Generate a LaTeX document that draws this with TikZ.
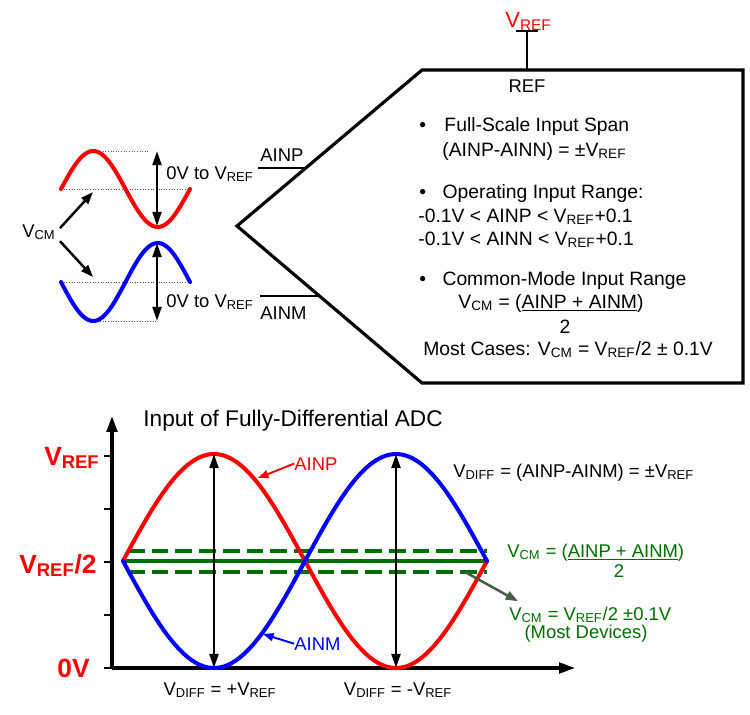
\documentclass[tikz,border=0pt]{standalone}
\usepackage{fontspec}
\setmainfont{Liberation Sans}
\usetikzlibrary{arrows.meta, positioning, calc}

\definecolor{cmgreen}{RGB}{0,110,0}
\definecolor{arrgreen}{RGB}{65,95,65}

\begin{document}
\begin{tikzpicture}[x=0.02cm, y=-0.02cm,
    txt/.style={inner sep=0pt, font=\fontsize{11}{13}\selectfont},
    lbl/.style={inner sep=0pt, font=\fontsize{10.5}{12}\selectfont},
    big/.style={inner sep=0pt, text=red, font=\fontsize{15}{18}\selectfont\bfseries},
    wave/.style={line width=2.3pt, line cap=round},
    guide/.style={densely dotted, gray!70!black, line width=0.5pt},
    pin/.style={line width=0.8pt},
    cmline/.style={line width=2pt, cmgreen},
    dar/.style={{Triangle[length=8pt,width=5pt]}-{Triangle[length=8pt,width=5pt]}, line width=1.5pt},
    nar/.style={-{Triangle[length=7pt,width=5pt]}, line width=1.4pt},
    sar/.style={-{Triangle[length=6pt,width=4.5pt]}, line width=1.1pt},
    axis/.style={-{Triangle[length=9pt,width=6pt]}, line width=1.8pt},
]
\useasboundingbox (0,0) rectangle (750,714);

% ADC box
\draw[line width=1.8pt, line join=miter] (422,70) -- (743,70) -- (743,383) -- (422,383) -- (237,226) -- cycle;
\coordinate (refpin) at (527,70);
\coordinate (reftop) at (527,31);
\coordinate (inp) at (306,168);
\coordinate (inm) at (320,296);

% REF pin
\draw[pin] (refpin) -- (reftop);
\draw[line width=1.2pt] ($(reftop)+(-11,0)$) -- ($(reftop)+(11,0)$);
\node[inner sep=0pt, anchor=base west, text=red, font=\fontsize{12.5}{14}\selectfont] (vref) at (505,27) {V\textsubscript{REF}};
\node[lbl, anchor=base] (ref) at (527,92) {REF};

% input pins
\draw[pin] (inp) -- ++(-48,0);
\draw[pin] (inm) -- ++(-60,0);
\node[lbl, anchor=base west] (ainpin) at (260,161) {AINP};
\node[lbl, anchor=base west] (ainmin) at (260,319) {AINM};

% box text
\node[txt, anchor=base west] (fs)  at (419,131) {\textbullet\hspace{0.95em}Full-Scale Input Span};
\node[txt, anchor=base west] (fs2) at (442,156) {(AINP-AINN) = ±V\textsubscript{REF}};
\node[txt, anchor=base west] (op)  at (419,198) {\textbullet\hspace{0.85em}Operating Input Range:};
\node[txt, anchor=base west] (op1) at (418,222) {-0.1V < AINP < V\textsubscript{REF}+0.1};
\node[txt, anchor=base west] (op2) at (418,245) {-0.1V < AINN < V\textsubscript{REF}+0.1};
\node[txt, anchor=base west] (cm)  at (419,285) {\textbullet\hspace{0.85em}Common-Mode Input Range};
\node[txt, anchor=base west] (cm1) at (458,308) {V\textsubscript{CM} = (\underline{AINP + AINM})};
\node[txt, anchor=base] (cm2) at (565,333) {2};
\node[txt, anchor=base west] (cm3) at (423,355) {Most Cases: V\textsubscript{CM} = V\textsubscript{REF}/2 ± 0.1V};

% small waves
\draw[guide] (100,151) -- (150,151);
\draw[guide] (61,189) -- (190,189);
\draw[guide] (61,282) -- (190,282);
\draw[guide] (100,321) -- (157,321);
\draw[wave, red] plot[domain=0:360, samples=73] ({61+0.35833*\x}, {189-38*sin(\x)});
\draw[wave, blue] plot[domain=0:360, samples=73] ({61+0.35833*\x}, {282+39*sin(\x)});
\coordinate (rtop) at (157,151);
\coordinate (rbot) at (157,226);
\coordinate (btop) at (157,243);
\coordinate (bbot) at (157,321);
\draw[dar] (rtop) -- (rbot);
\draw[dar] (btop) -- (bbot);
\node[lbl, anchor=base west] (span1) at (166,179) {0V to V\textsubscript{REF}};
\node[lbl, anchor=base west] (span2) at (166,307) {0V to V\textsubscript{REF}};

\node[lbl, anchor=base west] (vcm) at (22,237) {V\textsubscript{CM}};
\coordinate (rmid) at (93,192);
\coordinate (bmid) at (93,277);
\draw[nar] ($(vcm.east)+(4,-4)$) -- (rmid);
\draw[nar] ($(vcm.east)+(4,9)$) -- (bmid);

% bottom plot
\node[inner sep=0pt, anchor=base west, font=\fontsize{12.9}{15}\selectfont] (title) at (143,426) {Input of Fully-Differential ADC};
\coordinate (org) at (112,668);
\coordinate (ytop) at (112,416);
\coordinate (xend) at (575,668);
\draw[axis] (org) -- (ytop);
\draw[axis] (org) -- (xend);
\foreach \y in {456,509,562,615,668}
    \draw[line width=1pt] (104,\y) -- (112,\y);
\node[big, anchor=base east] (lvref) at (100,465) {V\textsubscript{REF}};
\node[big, anchor=base east] (lhalf) at (97,573) {V\textsubscript{REF}/2};
\node[big, anchor=base east] (lzero) at (90,677) {0V};

% common mode lines
\draw[cmline] (123,561) -- (487,561);
\draw[cmline, line width=2.2pt, dash pattern=on 9.5pt off 4pt] (128,551) -- (487,551);
\draw[cmline, line width=2.2pt, dash pattern=on 9.5pt off 4pt] (128,572) -- (487,572);

% big waves
\draw[wave, red] plot[domain=0:360, samples=91] ({123+1.01111*\x}, {561-107*sin(\x)});
\draw[wave, blue] plot[domain=0:360, samples=91] ({123+1.01111*\x}, {561+107*sin(\x)});
\coordinate (pk1) at (214,454);
\coordinate (lo1) at (214,668);
\coordinate (pk2) at (396,454);
\coordinate (lo2) at (396,668);
\draw[dar] (pk1) -- (lo1);
\draw[dar] (pk2) -- (lo2);

\node[lbl, anchor=base west, text=red] (ainp) at (294,470) {AINP};
\node[lbl, anchor=base west, text=blue] (ainm) at (294,650) {AINM};
\coordinate (onred) at (258,478);
\coordinate (onblue) at (263,634);
\draw[sar, red] (ainp.west) -- (onred);
\draw[sar, blue] (ainm.west) -- (onblue);

\node[lbl, anchor=base] (dpos) at (220,695) {V\textsubscript{DIFF} = +V\textsubscript{REF}};
\node[lbl, anchor=base] (dneg) at (398,695) {V\textsubscript{DIFF} = -V\textsubscript{REF}};
\node[lbl, anchor=base west] (deq) at (453,477) {V\textsubscript{DIFF} = (AINP-AINM) = ±V\textsubscript{REF}};

\node[lbl, anchor=base west, text=cmgreen] (vcmeq) at (507,557) {V\textsubscript{CM} = (\underline{AINP + AINM})};
\node[lbl, anchor=base, text=cmgreen] (vcmtwo) at (619,577) {2};
\node[lbl, anchor=base west, text=cmgreen] (vcmdev) at (509,620) {V\textsubscript{CM} = V\textsubscript{REF}/2 ±0.1V};
\node[lbl, anchor=base, text=cmgreen] (most) at (586,638) {(Most Devices)};
\coordinate (dashend) at (465,572);
\draw[nar, arrgreen] (dashend) -- ($(vcmdev.north west)+(9,-5)$);
\end{tikzpicture}
\end{document}
